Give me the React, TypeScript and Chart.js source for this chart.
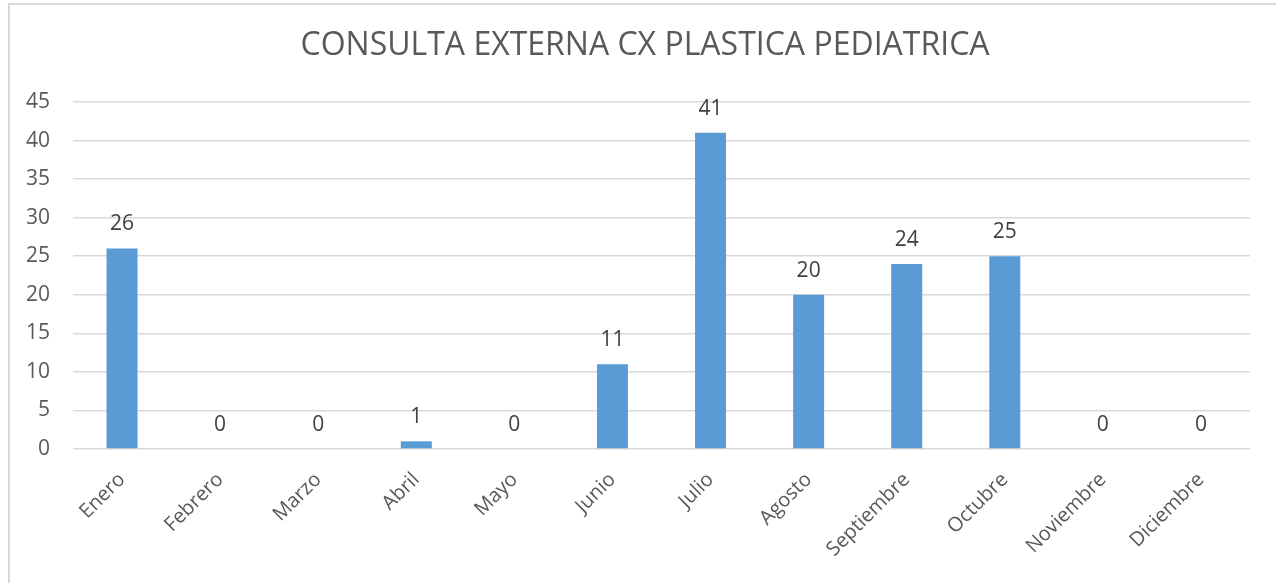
import React, { useEffect, useRef } from "react";
import { Chart, registerables } from "chart.js";

Chart.register(...registerables);

const TITLE = "CONSULTA EXTERNA CX PLASTICA PEDIATRICA";
const MONTHS = ["Enero", "Febrero", "Marzo", "Abril", "Mayo", "Junio", "Julio", "Agosto", "Septiembre", "Octubre", "Noviembre", "Diciembre"];
const VALUES = [26, 0, 0, 1, 0, 11, 41, 20, 24, 25, 0, 0];
const Y_MAX = 45;
const Y_STEP = 5;

const FONT = "'Open Sans', 'DejaVu Sans', sans-serif";

const dataLabelPlugin = {
  id: "dataLabels",
  afterDatasetsDraw(chart: any) {
    const ctx = chart.ctx;
    const meta = chart.getDatasetMeta(0);
    const ds = chart.data.datasets[0];
    ctx.save();
    ctx.font = `21px ${FONT}`;
    ctx.fillStyle = "#404040";
    ctx.textAlign = "center";
    ctx.textBaseline = "middle";
    meta.data.forEach((bar: any, i: number) => {
      ctx.fillText(String(ds.data[i]), bar.x, bar.y - 24);
    });
    ctx.restore();
  },
};

const titlePlugin = {
  id: "centeredTitle",
  afterDraw(chart: any) {
    const ctx = chart.ctx;
    ctx.save();
    ctx.font = `32px ${FONT}`;
    ctx.fillStyle = "#595959";
    ctx.textAlign = "center";
    ctx.textBaseline = "middle";
    ctx.fillText(TITLE, 645, 46);
    ctx.restore();
  },
};

export default function App() {
  const ref = useRef<HTMLCanvasElement>(null);
  useEffect(() => {
    if (!ref.current) return;
    const chart = new Chart(ref.current, {
      type: "bar",
      data: {
        labels: MONTHS,
        datasets: [
          {
            data: VALUES,
            backgroundColor: "#5B9BD5",
            borderWidth: 0,
            barPercentage: 0.316,
            categoryPercentage: 1,
          },
        ],
      },
      options: {
        animation: false,
        responsive: false,
        maintainAspectRatio: false,
        layout: { padding: { left: 0, right: 26, top: 102, bottom: 0 } },
        plugins: {
          legend: { display: false },
          tooltip: { enabled: false },
          title: { display: false },
        },
        scales: {
          x: {
            grid: { display: false, drawTicks: false },
            border: { display: false },
            ticks: {
              color: "#595959",
              font: { family: FONT, size: 20 },
              minRotation: 45,
              maxRotation: 45,
              padding: 19,
              autoSkip: false,
            },
            afterFit(scale: any) {
              scale.height = 134;
            },
          },
          y: {
            min: 0,
            max: Y_MAX,
            grid: { color: "#d9d9d9", lineWidth: 1.5, drawTicks: false },
            border: { display: false },
            ticks: {
              stepSize: Y_STEP,
              color: "#595959",
              font: { family: FONT, size: 21 },
              padding: 23,
            },
            afterFit(scale: any) {
              scale.width = 73;
            },
          },
        },
      },
      plugins: [dataLabelPlugin, titlePlugin],
    });
    return () => chart.destroy();
  }, []);
  return (
    <div style={{ position: "fixed", left: 0, top: 0, width: 1276, height: 583, background: "#fff", overflow: "hidden" }}>
      <canvas ref={ref} width={1276} height={583} style={{ position: "absolute", left: 0, top: 0 }} />
      <div
        style={{
          position: "absolute",
          left: 8,
          top: 3,
          width: 1300,
          height: 700,
          border: "2px solid #d9d9d9",
          pointerEvents: "none",
        }}
      />
    </div>
  );
}
